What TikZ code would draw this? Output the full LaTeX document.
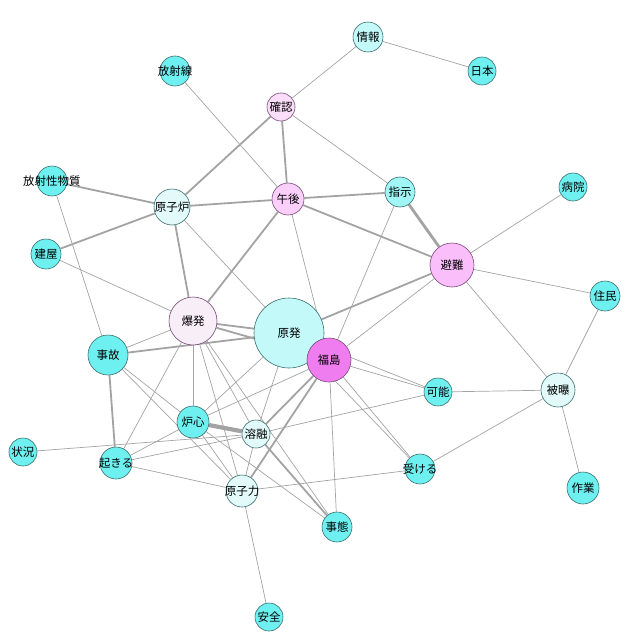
\documentclass[tikz,border=0pt]{standalone}
\usepackage{fontspec}
\newfontfamily\jpfont{Noto Sans CJK JP}
\usetikzlibrary{backgrounds}
\definecolor{kwcyan}{RGB}{110,240,240}
\definecolor{kwcyanmid}{RGB}{160,245,245}
\definecolor{kwcyanlt}{RGB}{195,249,249}
\definecolor{kwcyanxl}{RGB}{226,250,250}
\definecolor{kwpinkxl}{RGB}{248,238,248}
\definecolor{kwpinklt}{RGB}{250,222,250}
\definecolor{kwpink}{RGB}{250,208,250}
\definecolor{kwpinkmid}{RGB}{250,190,250}
\definecolor{kwmagenta}{RGB}{240,125,240}
\definecolor{rimcyan}{RGB}{60,110,110}
\definecolor{rimpink}{RGB}{120,75,120}
\definecolor{edgegray}{RGB}{163,163,163}
\newcommand{\kwtext}[1]{\makebox[0pt]{#1}}

\begin{document}
\begin{tikzpicture}[x=1pt, y=-1pt,
  kw/.style={circle, draw=rimcyan, line width=0.6pt, inner sep=0pt,
             minimum size=#1, fill=kwcyan,
             font=\jpfont\fontsize{11.5}{12}\selectfont},
  kwp/.style={kw=#1, draw=rimpink},
  thin/.style={draw=edgegray, line width=0.7pt},
  med/.style={draw=edgegray, line width=1.8pt},
  heavy/.style={draw=edgegray, line width=2.8pt},
  vheavy/.style={draw=edgegray, line width=4.2pt}
]
\useasboundingbox (0,0) rectangle (639,642);

% Keyword nodes
\node[kw=30pt, fill=kwcyanlt]   (joho)   at (368,37)  {\kwtext{情報}};
\node[kw=28pt]                  (nihon)  at (482,71)  {\kwtext{日本}};
\node[kw=30pt]                  (sen)    at (175,71)  {\kwtext{放射線}};
\node[kwp=28pt, fill=kwpinklt]  (kaku)   at (281,107) {\kwtext{確認}};
\node[kw=30pt]                  (bussh)  at (52,181)  {\kwtext{放射性物質}};
\node[kw=36pt, fill=kwcyanxl]   (ro)     at (172,207) {\kwtext{原子炉}};
\node[kwp=32pt, fill=kwpink]    (gogo)   at (288,199) {\kwtext{午後}};
\node[kw=30pt, fill=kwcyanmid]  (shiji)  at (400,192) {\kwtext{指示}};
\node[kw=28pt]                  (byoin)  at (573,187) {\kwtext{病院}};
\node[kw=30pt]                  (tate)   at (46,254)  {\kwtext{建屋}};
\node[kwp=44pt, fill=kwpinkmid] (hinan)  at (452,265) {\kwtext{避難}};
\node[kw=30pt]                  (jumin)  at (605,296) {\kwtext{住民}};
\node[kwp=48pt, fill=kwpinkxl]  (baku)   at (193,321) {\kwtext{爆発}};
\node[kw=70pt, fill=kwcyanlt]   (genp)   at (289,333) {\kwtext{原発}};
\node[kwp=44pt, fill=kwmagenta] (fuku)   at (329,360) {\kwtext{福島}};
\node[kw=40pt]                  (jiko)   at (108,355) {\kwtext{事故}};
\node[kw=28pt]                  (kano)   at (438,392) {\kwtext{可能}};
\node[kw=34pt, fill=kwcyanxl]   (hibaku) at (558,390) {\kwtext{被曝}};
\node[kw=32pt]                  (roshin) at (193,422) {\kwtext{炉心}};
\node[kw=28pt, fill=kwcyanxl]   (yoyu)   at (256,434) {\kwtext{溶融}};
\node[kw=28pt]                  (jokyo)  at (23,452)  {\kwtext{状況}};
\node[kw=32pt]                  (okiru)  at (116,463) {\kwtext{起きる}};
\node[kw=30pt]                  (ukeru)  at (420,469) {\kwtext{受ける}};
\node[kw=32pt, fill=kwcyanxl]   (ryoku)  at (242,491) {\kwtext{原子力}};
\node[kw=32pt]                  (sagyo)  at (583,488) {\kwtext{作業}};
\node[kw=30pt]                  (jitai)  at (337,527) {\kwtext{事態}};
\node[kw=28pt]                  (anzen)  at (269,617) {\kwtext{安全}};

% Co-occurrence edges
\begin{scope}[on background layer]
\draw[thin] (joho) -- (kaku);
\draw[thin] (joho) -- (nihon);
\draw[thin] (sen) -- (gogo);
\draw[med]  (kaku) -- (ro);
\draw[med]  (kaku) -- (gogo);
\draw[thin] (kaku) -- (shiji);
\draw[med]  (bussh) -- (ro);
\draw[thin] (bussh) -- (jiko);
\draw[med]  (tate) -- (ro);
\draw[thin] (tate) -- (baku);
\draw[med]  (ro) -- (gogo);
\draw[med]  (ro) -- (baku);
\draw[thin] (ro) -- (genp);
\draw[med]  (gogo) -- (baku);
\draw[thin] (gogo) -- (fuku);
\draw[med]  (gogo) -- (shiji);
\draw[med]  (gogo) -- (hinan);
\draw[heavy] (shiji) -- (hinan);
\draw[thin] (shiji) -- (fuku);
\draw[thin] (hinan) -- (byoin);
\draw[thin] (hinan) -- (jumin);
\draw[med]  (hinan) -- (genp);
\draw[thin] (hinan) -- (fuku);
\draw[thin] (hinan) -- (hibaku);
\draw[thin] (jumin) -- (hibaku);
\draw[thin] (hibaku) -- (kano);
\draw[thin] (hibaku) -- (ukeru);
\draw[thin] (hibaku) -- (sagyo);
\draw[thin] (fuku) -- (kano);
\draw[thin] (genp) -- (kano);
\draw[thin] (fuku) -- (ukeru);
\draw[thin] (genp) -- (ukeru);
\draw[thin] (fuku) -- (jitai);
\draw[med]  (fuku) -- (yoyu);
\draw[med]  (fuku) -- (ryoku);
\draw[thin] (fuku) -- (roshin);
\draw[med]  (baku) -- (genp);
\draw[med]  (baku) -- (fuku);
\draw[med]  (jiko) -- (genp);
\draw[thin] (jiko) -- (baku);
\draw[med]  (jiko) -- (okiru);
\draw[thin] (jiko) -- (roshin);
\draw[thin] (jiko) -- (ryoku);
\draw[thin] (baku) -- (okiru);
\draw[thin] (baku) -- (roshin);
\draw[thin] (baku) -- (ryoku);
\draw[thin] (baku) -- (yoyu);
\draw[thin] (baku) -- (jitai);
\draw[thin] (genp) -- (roshin);
\draw[thin] (genp) -- (yoyu);
\draw[vheavy] (roshin) -- (yoyu);
\draw[thin] (roshin) -- (okiru);
\draw[thin] (roshin) -- (ryoku);
\draw[thin] (roshin) -- (jitai);
\draw[thin] (okiru) -- (yoyu);
\draw[thin] (yoyu) -- (kano);
\draw[thin] (jokyo) -- (yoyu);
\draw[thin] (okiru) -- (ryoku);
\draw[med]  (yoyu) -- (jitai);
\draw[thin] (yoyu) -- (ryoku);
\draw[thin] (ukeru) -- (ryoku);
\draw[thin] (ryoku) -- (anzen);
\end{scope}
\end{tikzpicture}
\end{document}
